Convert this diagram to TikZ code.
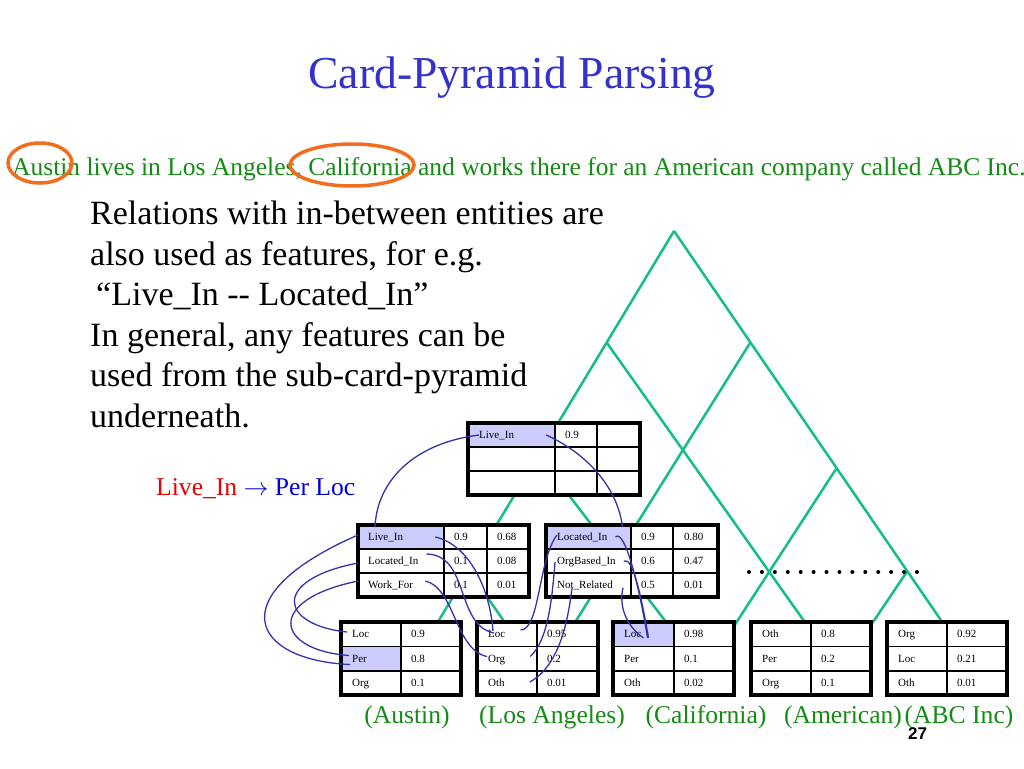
\documentclass[tikz,border=0pt]{standalone}
\usepackage{fontspec}
\setmainfont{Liberation Serif}
\setsansfont{Liberation Sans}
\definecolor{titleColor}{RGB}{51,51,204}
\definecolor{textColor}{RGB}{20,140,20}
\definecolor{ringColor}{RGB}{240,110,30}
\definecolor{pyrColor}{RGB}{20,190,140}
\definecolor{linkColor}{RGB}{51,51,170}
\definecolor{fillCell}{RGB}{204,204,255}
\definecolor{ruleRed}{RGB}{230,0,0}
\definecolor{ruleBlue}{RGB}{0,0,220}
\tikzset{
  pyr/.style={pyrColor,line width=2.5pt},
  cardframe/.style={line width=3.5pt},
  cardrule/.style={line width=1.5pt},
  celltext/.style={anchor=west,inner sep=0pt,font=\fontsize{11}{13}\selectfont,text height=8pt,text depth=1pt},
  linkline/.style={linkColor,line width=1.3pt},
  ring/.style={ringColor,line width=3.5pt},
  dotrow/.style={line width=4pt,line cap=round,dash pattern=on 0pt off 12.92pt},
  lbl/.style={anchor=base,inner sep=0pt,textColor,font=\fontsize{25.6}{30}\selectfont}
}
\begin{document}
\begin{tikzpicture}[x=1pt,y=-1pt]
  \useasboundingbox[fill=white] (0,0) rectangle (1024,768);
  % heading and sentence
  \node[anchor=base,inner sep=0pt,titleColor,font=\fontsize{45.7}{50}\selectfont] (title) at (512,88) {Card-Pyramid Parsing};
  \node[anchor=base west,inner sep=0pt,textColor,font=\fontsize{25.5}{30}\selectfont] (sentence) at (12,175) {Austin lives in Los Angeles, California and works there for an American company called ABC Inc.};
  \draw[ring] (40,163) ellipse [x radius=32,y radius=20];
  \draw[ring] (352,165) ellipse [x radius=62,y radius=21];
  \node[anchor=north west,align=left,inner sep=0pt,font=\fontsize{34}{40.5}\selectfont] (remark) at (90,201) {Relations with in-between entities are\\ also used as features, for e.g.\\ \hspace*{6pt}“Live\_In -{}- Located\_In”\\ In general, any features can be\\ used from the sub-card-pyramid\\ underneath.};
  \node[anchor=base west,inner sep=0pt,font=\fontsize{25.6}{30}\selectfont] (rule) at (156,495) {\textcolor{ruleRed}{Live\_In} \textcolor{ruleBlue}{$\rightarrow$ Per Loc}};
  % pyramid
  \draw[pyr] (674,231) -- (401,683);
  \draw[pyr] (750,343) -- (537,683);
  \draw[pyr] (836,469) -- (697,683);
  \draw[pyr] (906.7,572) -- (832,683);
  \draw[pyr] (674,231) -- (984,683);
  \draw[pyr] (607,343) -- (848,683);
  \draw[pyr] (538.6,455.7) -- (712.8,683);
  \draw[pyr] (469,571) -- (547,683);
  \draw[dotrow] (749,572) -- (917.5,572);
  % tables
  \fill[white] (468,423) rectangle (640,495) (358,525) rectangle (529,597) (546,525) rectangle (718,597)
    (341,622) rectangle (461,695) (477,622) rectangle (598,695) (613,622) rectangle (734,695)
    (751,622) rectangle (871,695) (887,622) rectangle (1007,695);
  \fill[fillCell] (468,423) rectangle (555,447) (358,525) rectangle (444,549) (546,525) rectangle (631,549)
    (341,646.5) rectangle (401,671) (613,622) rectangle (674,646.5);
  \draw[cardrule] (555,423) -- (555,495) (597,423) -- (597,495) (468,447) -- (640,447) (468,471) -- (640,471);
  \draw[cardrule] (444,525) -- (444,597) (487,525) -- (487,597) (358,549) -- (529,549) (358,573) -- (529,573);
  \draw[cardrule] (631,525) -- (631,597) (673,525) -- (673,597) (546,549) -- (718,549) (546,573) -- (718,573);
  \draw[cardrule] (401,622) -- (401,695) (341,646.5) -- (461,646.5) (341,671) -- (461,671);
  \draw[cardrule] (537,622) -- (537,695) (477,646.5) -- (598,646.5) (477,671) -- (598,671);
  \draw[cardrule] (674,622) -- (674,695) (613,646.5) -- (734,646.5) (613,671) -- (734,671);
  \draw[cardrule] (811,622) -- (811,695) (751,646.5) -- (871,646.5) (751,671) -- (871,671);
  \draw[cardrule] (947,622) -- (947,695) (887,646.5) -- (1007,646.5) (887,671) -- (1007,671);
  \draw[cardframe] (468,423) rectangle (640,495) (358,525) rectangle (529,597) (546,525) rectangle (718,597)
    (341,622) rectangle (461,695) (477,622) rectangle (598,695) (613,622) rectangle (734,695)
    (751,622) rectangle (871,695) (887,622) rectangle (1007,695);
  % top card
  \node[celltext] (topLive) at (479,435) {Live\_In};
  \node[celltext] (topLiveV) at (565,435) {0.9};
  % left pair card
  \node[celltext] (mlLive) at (368,537) {Live\_In};
  \node[celltext] (mlLiveV) at (454,537) {0.9};
  \node[celltext] (mlLiveW) at (497,537) {0.68};
  \node[celltext] (mlLoc) at (368,561) {Located\_In};
  \node[celltext] (mlLocV) at (454,561) {0.1};
  \node[celltext] (mlLocW) at (497,561) {0.08};
  \node[celltext] (mlWork) at (368,585) {Work\_For};
  \node[celltext] (mlWorkV) at (454,585) {0.1};
  \node[celltext] (mlWorkW) at (497,585) {0.01};
  % right pair card
  \node[celltext] (mrLoc) at (557,537) {Located\_In};
  \node[celltext] (mrLocV) at (641,537) {0.9};
  \node[celltext] (mrLocW) at (684,537) {0.80};
  \node[celltext] (mrOrg) at (557,561) {OrgBased\_In};
  \node[celltext] (mrOrgV) at (641,561) {0.6};
  \node[celltext] (mrOrgW) at (684,561) {0.47};
  \node[celltext] (mrNot) at (557,585) {Not\_Related};
  \node[celltext] (mrNotV) at (641,585) {0.5};
  \node[celltext] (mrNotW) at (684,585) {0.01};
  % entity cards
  \node[celltext] (ausLoc) at (352,634) {Loc};    \node[celltext] (ausLocV) at (411,634) {0.9};
  \node[celltext] (ausPer) at (352,658.5) {Per};  \node[celltext] (ausPerV) at (411,658.5) {0.8};
  \node[celltext] (ausOrg) at (352,683) {Org};    \node[celltext] (ausOrgV) at (411,683) {0.1};
  \node[celltext] (laLoc) at (488,634) {Loc};     \node[celltext] (laLocV) at (547,634) {0.95};
  \node[celltext] (laOrg) at (488,658.5) {Org};   \node[celltext] (laOrgV) at (547,658.5) {0.2};
  \node[celltext] (laOth) at (488,683) {Oth};     \node[celltext] (laOthV) at (547,683) {0.01};
  \node[celltext] (caLoc) at (624,634) {Loc};     \node[celltext] (caLocV) at (684,634) {0.98};
  \node[celltext] (caPer) at (624,658.5) {Per};   \node[celltext] (caPerV) at (684,658.5) {0.1};
  \node[celltext] (caOth) at (624,683) {Oth};     \node[celltext] (caOthV) at (684,683) {0.02};
  \node[celltext] (amOth) at (762,634) {Oth};     \node[celltext] (amOthV) at (821,634) {0.8};
  \node[celltext] (amPer) at (762,658.5) {Per};   \node[celltext] (amPerV) at (821,658.5) {0.2};
  \node[celltext] (amOrg) at (762,683) {Org};     \node[celltext] (amOrgV) at (821,683) {0.1};
  \node[celltext] (abcOrg) at (898,634) {Org};    \node[celltext] (abcOrgV) at (957,634) {0.92};
  \node[celltext] (abcLoc) at (898,658.5) {Loc};  \node[celltext] (abcLocV) at (957,658.5) {0.21};
  \node[celltext] (abcOth) at (898,683) {Oth};    \node[celltext] (abcOthV) at (957,683) {0.01};
  % entity names
  \node[lbl] (lblAustin) at (407,723) {(Austin)};
  \node[lbl] (lblLA) at (552,723) {(Los Angeles)};
  \node[lbl] (lblCal) at (706,723) {(California)};
  \node[lbl] (lblAm) at (843,723) {(American)};
  \node[lbl] (lblAbc) at (959,723) {(ABC Inc)};
  \node[anchor=base,inner sep=0pt,font=\fontsize{17}{20}\sffamily\bfseries] (pageno) at (917.5,739) {27};
  % links between cards
  \draw[linkline] (topLive.west) .. controls (415,443) and (377,480) .. ([shift={(7,-10)}]mlLive.west);
  \draw[linkline] ([shift={(32,0)}]topLive.east) .. controls (590,455) and (618,490) .. ([shift={(15,-10)}]mrLoc.east);
  \draw[linkline] ([shift={(-10,-2)}]mlLive.west) .. controls (220,595) and (250,660) .. ([shift={(-2,6)}]ausPer.west);
  \draw[linkline] ([shift={(-10,2)}]mlLoc.west) .. controls (270,580) and (280,625) .. ([shift={(-5,-2)}]ausLoc.west);
  \draw[linkline] ([shift={(-10,-4)}]mlWork.west) .. controls (265,600) and (275,650) .. ([shift={(-3,-3)}]ausPer.west);
  \draw[linkline] ([shift={(32,0)}]mlLive.east) .. controls (470,545) and (490,590) .. ([shift={(5,-3)}]laLoc.west);
  \draw[linkline] ([shift={(8,-7)}]mlLoc.east) .. controls (470,555) and (455,625) .. ([shift={(6,-1)}]laLoc.west);
  \draw[linkline] ([shift={(12,-4)}]mlWork.east) .. controls (455,588) and (455,650) .. ([shift={(-1,-2)}]laOrg.west);
  \draw[linkline] ([shift={(0,-2)}]mrLoc.west) .. controls (538,560) and (540,630) .. ([shift={(15,-4)}]laLoc.east);
  \draw[linkline] ([shift={(-2,1)}]mrOrg.west) .. controls (552,600) and (548,640) .. ([shift={(25,-2)}]laOrg.east);
  \draw[linkline] ([shift={(15,3)}]mrNot.west) .. controls (568,620) and (560,665) .. ([shift={(25,-1)}]laOth.east);
  \draw[linkline] ([shift={(8,0)}]mrLoc.east) .. controls (625,528) and (640,590) .. ([shift={(6,4)}]caLoc.east);
  \draw[linkline] ([shift={(8,0)}]mrOrg.east) .. controls (633,556) and (642,600) .. ([shift={(7,4)}]caLoc.east);
  \draw[linkline] ([shift={(10,3)}]mrNot.east) .. controls (619,605) and (625,625) .. ([shift={(2,4)}]caLoc.east);
\end{tikzpicture}
\end{document}
